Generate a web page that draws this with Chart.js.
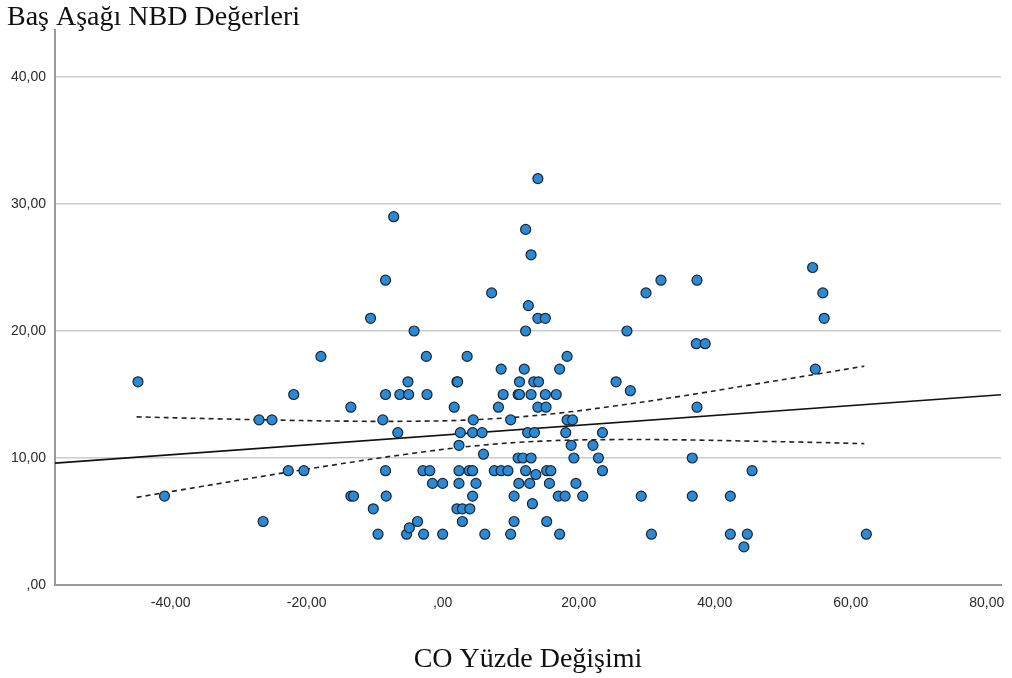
<!DOCTYPE html>
<html lang="tr">
<head>
<meta charset="utf-8">
<title>Baş Aşağı NBD Değerleri</title>
<script src="https://cdn.jsdelivr.net/npm/chart.js@4.4.1/dist/chart.umd.min.js"></script>
<style>
    html, body { margin: 0; padding: 0; background: #fff; }
    .wrap { width: 1012px; height: 678px; position: relative; }
</style>
</head>
<body>
<div class="wrap"><canvas id="chartNbd"></canvas></div>
<script>
/* DATA: CO yüzde değişimi (x) ve baş aşağı NBD (y) */
const coX = [
    -44.8, -40.9, -27.0, -25.1, -26.4, -22.7, -20.4, -21.9, -17.9,
    -13.5, -13.5, -13.1, -10.6, -10.2, -9.5, -8.8, -8.4, -8.4, -8.4,
    -8.3, -7.2, -6.6, -6.3, -5.3, -5.1, -5.0, -4.9, -4.2, -3.7,
    -2.8, -2.9, -2.4, -2.3, -1.9, -1.5, 0.0, 0.0, 1.7, 2.1,
    2.2, 2.4, 2.4, 2.4, 2.1, 2.6, 2.9, 2.9, 3.6, 3.9,
    4.0, 4.4, 4.4, 4.4, 4.5, 4.9, 5.8, 6.0, 6.2,
    7.2, 7.6, 8.2, 8.6, 8.6, 8.9, 9.6, 10.0, 10.0, 10.5,
    10.5, 11.1, 11.3, 11.1, 11.2, 11.3, 11.8, 12.0, 12.2, 12.2,
    12.2, 12.6, 12.5, 13.0, 13.0, 13.0, 12.8, 13.2, 13.4, 13.5,
    13.7, 14.0, 14.0, 14.1, 14.0, 15.1, 15.1, 15.2, 15.3, 15.3,
    15.7, 15.9, 16.7, 17.0, 17.2, 17.2, 18.0, 18.1, 18.3, 18.3,
    19.1, 18.9, 19.3, 19.6, 20.6, 22.1, 22.9, 23.5, 23.5, 25.5,
    27.1, 27.6,
    29.2, 29.9, 30.7, 32.1, 36.7, 36.7, 37.4, 37.4, 37.3, 38.6,
    42.3, 42.3, 44.3, 44.8, 45.5, 54.4, 54.8, 55.9, 56.1, 62.3
];
const nbdY = [
    16, 7, 13, 13, 5, 9, 9, 15, 18,
    14, 7, 7, 21, 6, 4, 13, 24, 15, 9,
    7, 29, 12, 15, 4, 16, 15, 4.5, 20, 5,
    4, 9, 18, 15, 9, 8, 8, 4, 14, 16,
    16, 11, 9, 8, 6, 12, 6, 5, 18, 9,
    6, 12, 9, 7, 13, 8, 12, 10.3, 4,
    23, 9, 14, 17, 9, 15, 9, 13, 4, 7,
    5, 15, 15, 10, 8, 16, 10, 17, 28, 20,
    9, 22, 12, 26, 15, 10, 8, 6.4, 16, 12,
    8.7, 32, 21, 16, 14, 21, 15, 14, 9, 5,
    8, 9, 15, 7, 17, 4, 7, 12, 18, 13,
    13, 11, 10, 8, 7, 11, 10, 12, 9, 16,
    20, 15.3,
    7, 23, 4, 24, 10, 7, 24, 14, 19, 19,
    7, 4, 3, 4, 9, 25, 17, 23, 21, 4
];

/* doğrusal uyum çizgisi (uçlar) */
const fitX = [-57.0, 82.1];
const fitY = [9.60, 14.98];

/* %95 güven aralığı eğrileri */
const ciX     = [-45.0, -36.0, -25.9, -15.7, -5.6, 4.5, 14.7, 24.8, 35.0, 45.1, 55.3, 62.0];
const ciUpper = [13.24, 13.12, 13.00, 12.91, 12.89, 13.01, 13.40, 14.06, 14.86, 15.74, 16.63, 17.23];
const ciLower = [6.90, 7.71, 8.61, 9.48, 10.28, 10.94, 11.33, 11.45, 11.43, 11.33, 11.22, 11.13];

/* eksen işaretleri */
const xTicks = [-40, -20, 0, 20, 40, 60, 80];
const xTickLabels = ['-40,00', '-20,00', ',00', '20,00', '40,00', '60,00', '80,00'];
const yTicks = [0, 10, 20, 30, 40];
const yTickLabels = [',00', '10,00', '20,00', '30,00', '40,00'];

const toPoints = (xs, ys) => xs.map((x, i) => ({x: x, y: ys[i]}));

/* üst sol başlık */
const topTitle = {
    id: 'topTitle',
    afterDraw(chart) {
        const ctx = chart.ctx;
        ctx.save();
        ctx.font = '28px "Liberation Serif", "Times New Roman", serif';
        ctx.fillStyle = '#111';
        ctx.textBaseline = 'alphabetic';
        ctx.textAlign = 'left';
        ctx.fillText('Baş Aşağı NBD Değerleri', 7, 25);
        ctx.restore();
    }
};

new Chart(document.getElementById('chartNbd'), {
    type: 'scatter',
    data: {
        datasets: [
            {
                label: 'NBD',
                data: toPoints(coX, nbdY),
                backgroundColor: '#2a8ad6',
                borderColor: '#1b2633',
                borderWidth: 1.2,
                pointRadius: 5,
                order: 0
            },
            {
                type: 'line',
                label: 'Uyum',
                data: toPoints(fitX, fitY),
                borderColor: '#111',
                borderWidth: 1.6,
                pointRadius: 0,
                fill: false,
                order: 1
            },
            {
                type: 'line',
                label: 'Üst',
                data: toPoints(ciX, ciUpper),
                borderColor: '#222',
                borderWidth: 1.6,
                borderDash: [5, 4],
                pointRadius: 0,
                tension: 0.4,
                fill: false,
                order: 2
            },
            {
                type: 'line',
                label: 'Alt',
                data: toPoints(ciX, ciLower),
                borderColor: '#222',
                borderWidth: 1.6,
                borderDash: [5, 4],
                pointRadius: 0,
                tension: 0.4,
                fill: false,
                order: 2
            }
        ]
    },
    options: {
        responsive: true,
        maintainAspectRatio: false,
        animation: false,
        layout: {padding: {left: 7, top: 30, right: 11, bottom: 0}},
        plugins: {legend: {display: false}, tooltip: {enabled: false}},
        scales: {
            x: {
                type: 'linear',
                min: -57.0, max: 82.1,
                afterBuildTicks: s => { s.ticks = xTicks.map(v => ({value: v})); },
                afterFit: s => { s.height = 93; s.paddingLeft = 0; s.paddingRight = 0; },
                grid: {display: false, drawTicks: false},
                border: {display: true, color: '#9a9a9a', width: 2},
                ticks: {
                    padding: 10,
                    color: '#2b2b2b',
                    font: {family: '"Liberation Sans", Arial, sans-serif', size: 14},
                    callback: (v, i) => xTickLabels[i]
                },
                title: {
                    display: true,
                    text: 'CO Yüzde Değişimi',
                    color: '#111',
                    font: {family: '"Liberation Serif", "Times New Roman", serif', size: 28},
                    padding: {top: 0, bottom: 2}
                }
            },
            y: {
                type: 'linear',
                min: 0, max: 43.7,
                afterBuildTicks: s => { s.ticks = yTicks.map(v => ({value: v})); },
                afterFit: s => { s.width = 48; s.paddingTop = 0; s.paddingBottom = 0; },
                grid: {color: '#cccccc', lineWidth: 1.5, drawTicks: false},
                border: {display: true, color: '#9a9a9a', width: 2},
                ticks: {
                    padding: 9,
                    color: '#2b2b2b',
                    font: {family: '"Liberation Sans", Arial, sans-serif', size: 14},
                    callback: (v, i) => yTickLabels[i]
                }
            }
        }
    },
    plugins: [topTitle]
});
</script>
</body>
</html>
